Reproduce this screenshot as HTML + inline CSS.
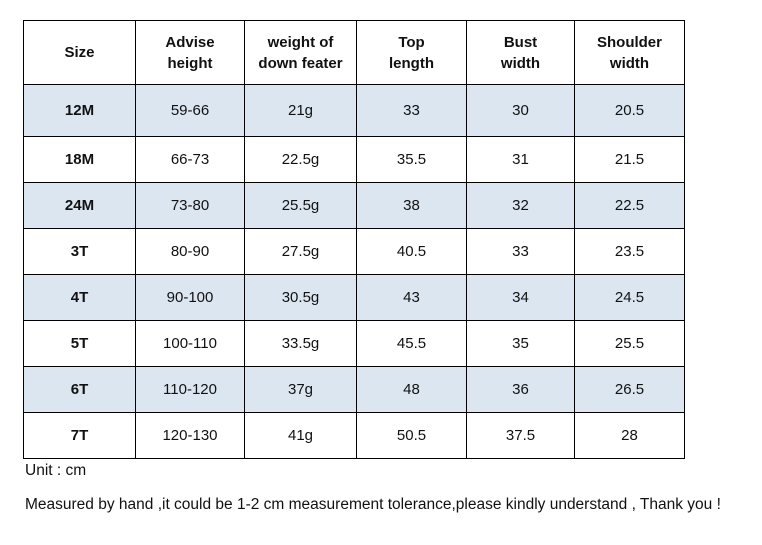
<!DOCTYPE html>
<html><head><style>
body{margin:0;width:762px;height:545px;background:#fff;font-family:"Liberation Sans",Arial,sans-serif;position:relative;overflow:hidden}
table{position:absolute;left:23px;top:20px;border-collapse:collapse}
td{border:1.5px solid #000;text-align:center;font-size:15px;color:#111;padding:0;height:45px}
tr.h td{font-weight:bold;height:63px;line-height:21px}
tr.first td{height:51px}
td:first-child{font-weight:bold}
tr.s td{background:#dce6f1}
.t{position:absolute;font-size:15.5px;color:#111}
</style></head><body>
<table>
<colgroup><col style="width:112px"><col style="width:109px"><col style="width:112px"><col style="width:110px"><col style="width:108px"><col style="width:110px"></colgroup>
<tr class="h"><td>Size</td><td>Advise<br>height</td><td>weight of<br>down feater</td><td>Top<br>length</td><td>Bust<br>width</td><td>Shoulder<br>width</td></tr>
<tr class="s first"><td>12M</td><td>59-66</td><td>21g</td><td>33</td><td>30</td><td>20.5</td></tr>
<tr><td>18M</td><td>66-73</td><td>22.5g</td><td>35.5</td><td>31</td><td>21.5</td></tr>
<tr class="s"><td>24M</td><td>73-80</td><td>25.5g</td><td>38</td><td>32</td><td>22.5</td></tr>
<tr><td>3T</td><td>80-90</td><td>27.5g</td><td>40.5</td><td>33</td><td>23.5</td></tr>
<tr class="s"><td>4T</td><td>90-100</td><td>30.5g</td><td>43</td><td>34</td><td>24.5</td></tr>
<tr><td>5T</td><td>100-110</td><td>33.5g</td><td>45.5</td><td>35</td><td>25.5</td></tr>
<tr class="s"><td>6T</td><td>110-120</td><td>37g</td><td>48</td><td>36</td><td>26.5</td></tr>
<tr><td>7T</td><td>120-130</td><td>41g</td><td>50.5</td><td>37.5</td><td>28</td></tr>
</table>
<div class="t" style="left:25px;top:462px">Unit : cm</div>
<div class="t" style="left:25px;top:496px">Measured by hand ,it could be 1-2 cm measurement tolerance,please kindly understand , Thank you !</div>
</body></html>
